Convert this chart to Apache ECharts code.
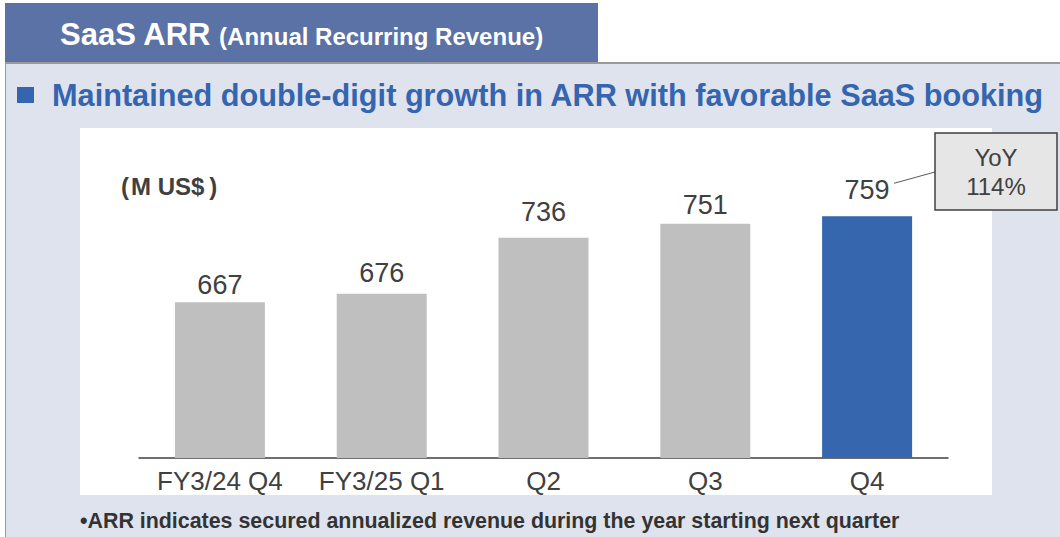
<!DOCTYPE html>
<html>
<head>
<meta charset="utf-8">
<script src="https://cdn.jsdelivr.net/npm/echarts@6/dist/echarts.min.js"></script>
<style>
  html, body { margin: 0; padding: 0; background: #ffffff; }
  body { width: 1060px; height: 537px; position: relative; overflow: hidden;
         font-family: "Liberation Sans", Arial, sans-serif; }
  #header { position: absolute; left: 5px; top: 3px; width: 593px; height: 59px;
            background: #5a72a6; color: #fff; font-weight: bold; }
  #header .big { position: absolute; left: 55px; top: 16px; font-size: 31px; line-height: 1; white-space: nowrap; }
  #header .small { font-size: 24px; }
  #panel { position: absolute; left: 5px; top: 62px; right: 0; bottom: 0;
           background: #dfe3ee; border-top: 2px solid #999; border-left: 1px solid #999; }
  #bullet { position: absolute; left: 17px; top: 87px; width: 17px; height: 16px; background: #3465ae; }
  #title { position: absolute; left: 52px; top: 78px; font-size: 30.7px; font-weight: bold;
           color: #3465ae; white-space: nowrap; }
  #plotbg { position: absolute; left: 80px; top: 128px; width: 912px; height: 367px; background: #fff; }
  #unit { position: absolute; left: 121px; top: 172px; font-size: 24px; font-weight: bold;
          color: #404040; white-space: nowrap; z-index: 2; line-height: 30px; }
  #unit .l { margin-right: 2px; }
  #unit .r { margin-left: 5px; }
  #note { position: absolute; left: 80px; top: 509px; font-size: 21.4px; font-weight: bold;
          color: #333; white-space: nowrap; }
  #chart { position: absolute; left: 0; top: 0; width: 1060px; height: 537px; }
</style>
</head>
<body>
<div id="header"><div class="big">SaaS ARR <span class="small">(Annual Recurring Revenue)</span></div></div>
<div id="panel"></div>
<div id="bullet"></div>
<div id="title">Maintained double-digit growth in ARR with favorable SaaS booking</div>
<div id="plotbg"></div>
<div id="note">•ARR indicates secured annualized revenue during the year starting next quarter</div>
<div id="chart"></div>
<div id="unit"><span class="l">(</span>M US$<span class="r">)</span></div>
<script>
var categories = ['FY3/24 Q4', 'FY3/25 Q1', 'Q2', 'Q3', 'Q4'];
var arrValues = [667, 676, 736, 751, 759];
var barColors = ['#bfbfbf', '#bfbfbf', '#bfbfbf', '#bfbfbf', '#3566ae'];
// gap between bar top and its value label (hand placed in the original)
var labelGaps = [4, 7, 12, 5, 13];
var yoyText = ['YoY', '114%'];

var FONT = '"Liberation Sans", Arial, sans-serif';
var myChart = echarts.init(document.getElementById('chart'), null, {renderer: 'svg'});

var option = {
    backgroundColor: 'transparent',
    animation: false,
    textStyle: { fontFamily: FONT },
    grid: { left: 139, width: 809, top: 178, height: 280 },
    xAxis: {
        type: 'category',
        data: categories,
        axisLine: { lineStyle: { color: '#404040', width: 1.5 } },
        axisTick: { show: false },
        axisLabel: { color: '#404040', fontSize: 26, margin: 10, interval: 0 }
    },
    yAxis: {
        type: 'value',
        min: 500,
        max: 800,
        show: false,
        splitLine: { show: false }
    },
    series: [
        {
            type: 'bar',
            barWidth: 90,
            data: arrValues.map(function (v, i) {
                return { value: v, itemStyle: { color: barColors[i] }, label: { distance: labelGaps[i] } };
            }),
            label: {
                show: true,
                position: 'top',
                color: '#404040',
                fontSize: 27
            }
        }
    ]
};

myChart.setOption(option);

// callout for the last bar
var p = myChart.convertToPixel({ xAxisIndex: 0, yAxisIndex: 0 }, [categories.length - 1, arrValues[arrValues.length - 1]]);
myChart.setOption({
    graphic: [
        {
            type: 'line',
            shape: { x1: p[0] + 27, y1: p[1] - 33, x2: 935, y2: 172 },
            style: { stroke: '#595959', lineWidth: 1 }
        },
        {
            type: 'rect',
            shape: { x: 935, y: 133, width: 122, height: 77 },
            style: { fill: '#e6e6e6', stroke: '#404040', lineWidth: 1.5 }
        },
        {
            type: 'text',
            x: 996,
            y: 172,
            style: {
                text: yoyText.join('\n'),
                fill: '#404040',
                fontSize: 24,
                lineHeight: 29,
                align: 'center',
                verticalAlign: 'middle',
                fontFamily: FONT
            }
        }
    ]
});
</script>
</body>
</html>
